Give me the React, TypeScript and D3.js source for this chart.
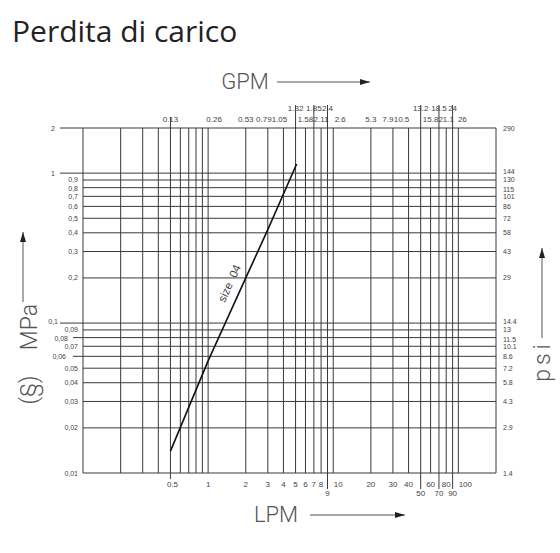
import React from "react";
import * as d3 from "d3";

// ---- data ----
const mpaTicks = [2, 1, 0.9, 0.8, 0.7, 0.6, 0.5, 0.4, 0.3, 0.2, 0.1, 0.09, 0.08, 0.07, 0.06, 0.05, 0.04, 0.03, 0.02, 0.01];
const mpaLabels = ["2", "1", "0,9", "0,8", "0,7", "0,6", "0,5", "0,4", "0,3", "0,2", "0,1", "0,09", "0,08", "0,07", "0,06", "0,05", "0,04", "0,03", "0,02", "0,01"];
const psiLabels = ["290", "144", "130", "115", "101", "86", "72", "58", "43", "29", "14.4", "13", "11.5", "10.1", "8.6", "7.2", "5.8", "4.3", "2.9", "1.4"];

const lpmGrid = [0.1, 0.2, 0.3, 0.4, 0.5, 0.6, 0.7, 0.8, 0.9, 1, 2, 3, 4, 5, 6, 7, 8, 9, 10, 20, 30, 40, 50, 60, 70, 80, 90, 100, 200];
const lpmLabelValues = [0.5, 1, 2, 3, 4, 5, 6, 7, 8, 9, 10, 20, 30, 40, 50, 60, 70, 80, 90, 100];
const lpmLabels = ["0.5", "1", "2", "3", "4", "5", "6", "7", "8", "9", "10", "20", "30", "40", "50", "60", "70", "80", "90", "100"];
const gpmLabels = ["0.13", "0.26", "0.53", "0.79", "1.05", "1.32", "1.58", "1.85", "2.11", "2.4", "2.6", "5.3", "7.9", "10.5", "13.2", "15.8", "18.5", "21.1", "24", "26"];
const lowerRowLpm = [9, 50, 70, 90]; // bottom labels in second row
const upperRowLpm = [5, 7, 9, 50, 70, 90]; // top labels in upper row

const size04Lpm = [0.5, 1, 2, 3, 5.1];
const size04Mpa = [0.014, 0.056, 0.2, 0.42, 1.15];

// ---- layout ----
const W = 560, H = 553;
const X0 = 83, X1 = 496, Y0 = 128, Y1 = 473;
const gridColor = "#3a3a3a";
const textColor = "#444";
const font = "'Liberation Sans', Arial, sans-serif";
const titleFont = "Roboto, 'Liberation Sans', sans-serif";

// small label nudges (layout only)
const gpmDx: Record<string, number> = { "0.26": 6, "0.79": -4, "1.05": -4, "2.6": 7, "7.9": -5, "10.5": -7, "26": 4 };
const lpmDx: Record<string, number> = { "0.5": 2, "10": 5, "100": 7 };
const leftLabelEnd: Record<string, number> = { "2": 55, "1": 55, "0,1": 58, "0,08": 68, "0,06": 66 };
const leftTickStart: Record<string, number> = { "2": 60, "1": 60, "0,1": 60, "0,08": 73, "0,06": 73 };
const rightDy: Record<string, number> = { "144": -1.5, "130": 0, "115": 1.5, "14.4": -1.5, "13": 0, "11.5": 1.5 };
const leftDy: Record<string, number> = { "0,1": -2, "0,9": -0.5, "0,8": 0.5, "0,09": -0.5, "0,08": 0.5 };

export default function App() {
  const x = d3.scaleLog().domain([0.1, 200]).range([X0, X1]);
  const y = d3.scaleLog().domain([0.01, 2]).range([Y1, Y0]);

  const line = d3
    .line<number>()
    .x((d) => x(d))
    .y((_, i) => y(size04Mpa[i]));
  const pathD = line(size04Lpm) || "";

  // label along line
  const lx1 = x(size04Lpm[1]), ly1 = y(size04Mpa[1]);
  const lx2 = x(size04Lpm[3]), ly2 = y(size04Mpa[3]);
  const ang = (Math.atan2(ly2 - ly1, lx2 - lx1) * 180) / Math.PI;

  return (
    <svg width={W} height={H} viewBox={`0 0 ${W} ${H}`} style={{ display: "block", position: "absolute", left: 0, top: 0 }}>
      <defs>
        <marker id="arr" viewBox="0 0 10 6" refX="10" refY="3" markerWidth="17" markerHeight="6" markerUnits="userSpaceOnUse" orient="auto">
          <path d="M0,0 L10,3 L0,6 Z" fill="#222" />
        </marker>
      </defs>
      <rect width={W} height={H} fill="#fff" />
      <text x={12} y={42} fontFamily="'Open Sans', 'Noto Sans', sans-serif" fontSize={30} fill="#222">
        Perdita di carico
      </text>

      {/* GPM axis title */}
      <text x={245} y={89} textAnchor="middle" fontFamily={titleFont} fontWeight={300} fontSize={22} fill="#555">
        GPM
      </text>
      <line x1={277} y1={82} x2={370} y2={82} stroke="#555" strokeWidth={1} markerEnd="url(#arr)" />

      {/* LPM axis title */}
      <text x={276} y={522} textAnchor="middle" fontFamily={titleFont} fontWeight={300} fontSize={22} fill="#555">
        LPM
      </text>
      <line x1={310} y1={515} x2={405} y2={515} stroke="#555" strokeWidth={1} markerEnd="url(#arr)" />

      {/* MPa title */}
      <g transform="translate(37,327) rotate(-90)">
        <text x={0} y={0} textAnchor="middle" fontFamily={titleFont} fontWeight={300} fontSize={23} fill="#555">
          MPa
        </text>
      </g>
      <g transform="translate(37,390) rotate(-90)">
        <text x={0} y={0} textAnchor="middle" fontFamily={titleFont} fontWeight={300} fontSize={23} fill="#555">
          (§)
        </text>
      </g>
      <line x1={23} y1={302} x2={23} y2={232} stroke="#555" strokeWidth={1} markerEnd="url(#arr)" />

      {/* psi title */}
      <g transform="translate(550,361) rotate(-90)">
        <text x={0} y={0} textAnchor="middle" fontFamily={titleFont} fontWeight={300} fontSize={23} letterSpacing={4} fill="#555">
          psi
        </text>
      </g>
      <line x1={542} y1={338} x2={542} y2={248} stroke="#555" strokeWidth={1} markerEnd="url(#arr)" />

      {/* horizontal grid lines */}
      {mpaTicks.map((v, i) => {
        const lab = mpaLabels[i];
        const start = leftTickStart[lab] ?? X0;
        return <line key={"h" + i} x1={start} x2={X1} y1={y(v)} y2={y(v)} stroke={gridColor} strokeWidth={1} />;
      })}

      {/* vertical grid lines */}
      {lpmGrid.map((v, i) => {
        let top = Y0;
        let bot = Y1;
        if (v === 0.5) { top = 117; bot = 479; }
        if (upperRowLpm.includes(v)) top = 105;
        if (lowerRowLpm.includes(v)) bot = 489;
        return <line key={"v" + i} x1={x(v)} x2={x(v)} y1={top} y2={bot} stroke={gridColor} strokeWidth={1} />;
      })}

      {/* left labels */}
      {mpaTicks.map((v, i) => {
        const lab = mpaLabels[i];
        const end = leftLabelEnd[lab] ?? 78;
        return (
          <text key={"l" + i} x={end} y={y(v) + 2.5 + (leftDy[lab] ?? 0)} textAnchor="end" fontFamily={font} fontSize={7} fill={textColor}>
            {lab}
          </text>
        );
      })}

      {/* right labels */}
      {mpaTicks.map((v, i) => (
        <text key={"r" + i} x={503} y={y(v) + 2.5 + (rightDy[psiLabels[i]] ?? 0)} fontFamily={font} fontSize={7} fill={textColor}>
          {psiLabels[i]}
        </text>
      ))}

      {/* bottom LPM labels */}
      {lpmLabelValues.map((v, i) => {
        const lab = lpmLabels[i];
        const lower = lowerRowLpm.includes(v);
        return (
          <text key={"b" + i} x={x(v) + (lpmDx[lab] ?? 0)} y={lower ? 496 : 487} textAnchor="middle" fontFamily={font} fontSize={8} fill={textColor}>
            {lab}
          </text>
        );
      })}

      {/* top GPM labels */}
      {lpmLabelValues.map((v, i) => {
        const lab = gpmLabels[i];
        const upper = upperRowLpm.includes(v);
        return (
          <text key={"t" + i} x={x(v) + (gpmDx[lab] ?? 0)} y={upper ? 111 : 122} textAnchor="middle" fontFamily={font} fontSize={8} fill={textColor}>
            {lab}
          </text>
        );
      })}

      {/* size 04 curve */}
      <path d={pathD} fill="none" stroke="#111" strokeWidth={1.6} />
      <text
        transform={`translate(233,285) rotate(${ang})`}
        textAnchor="middle"
        fontFamily={font}
        fontSize={11.5}
        fill="#444"
        xmlSpace="preserve"
      >
        {"size  04"}
      </text>
    </svg>
  );
}
